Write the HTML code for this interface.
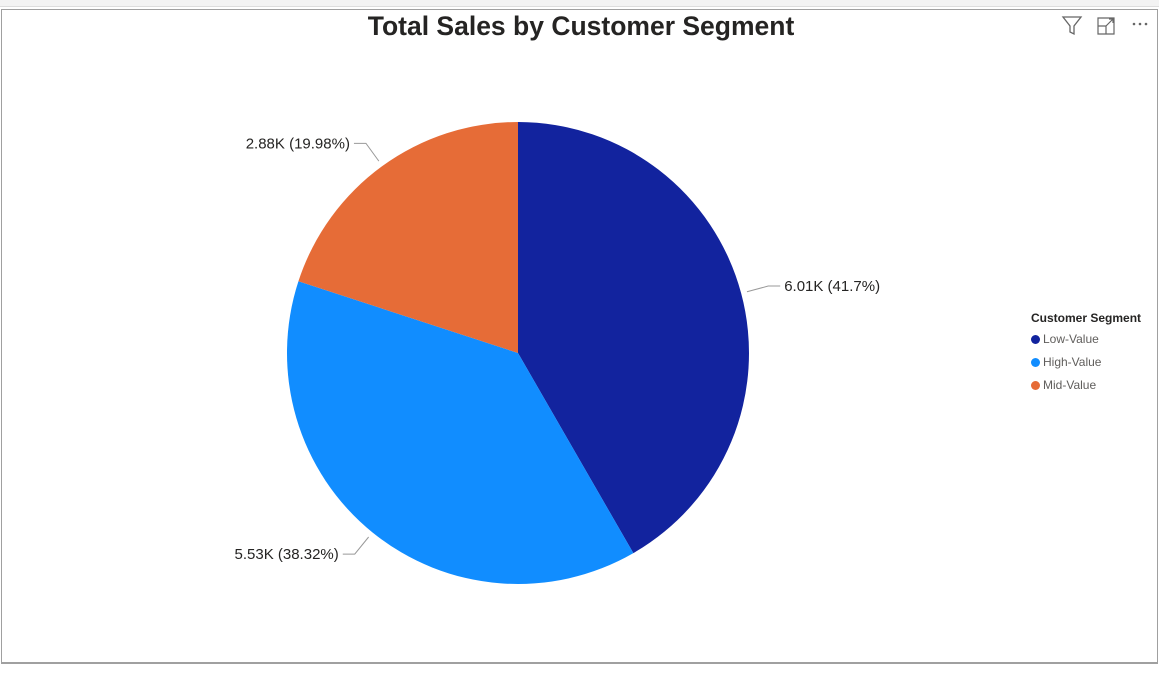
<!DOCTYPE html>
<html><head><meta charset="utf-8"><style>
body{margin:0;width:1159px;height:673px;background:#fff;overflow:hidden;font-family:"Liberation Sans",sans-serif;position:relative}
.ribbon{position:absolute;left:0;top:0;width:1159px;height:6px;background:#f3f3f3;border-bottom:1px solid #ddd}
.frame{position:absolute;left:1px;top:9px;width:1155px;height:652px;border:1px solid #a0a0a0;border-bottom:2px solid #a0a0a0}
.title{position:absolute;left:0;width:1162px;top:11px;text-align:center;font-weight:bold;font-size:26.5px;color:#252423}
.leg{position:absolute;left:1031px;font-size:12px;color:#605e5c}
.dot{display:inline-block;width:9px;height:9px;border-radius:50%;margin-right:3px;vertical-align:-1px}
</style></head><body>
<div class="ribbon"></div>
<div class="frame"></div>
<div class="title">Total Sales by Customer Segment</div>
<svg style="position:absolute;left:1060px;top:14px" width="95" height="24">
<path d="M3 3 H21 L14 12 V20 L10 18 V12 Z" fill="none" stroke="#666" stroke-width="1.3"/>
<path d="M38 4 H54 V20 H38 Z M38 12 H46 V20 M46 12 L53 5 M49 5 H53 V9" fill="none" stroke="#666" stroke-width="1.2"/>
<g fill="#666"><circle cx="74" cy="10" r="1.3"/><circle cx="80" cy="10" r="1.3"/><circle cx="86" cy="10" r="1.3"/></g>
</svg>
<svg id="pie" style="position:absolute;left:0;top:0" width="1159" height="673"></svg>
<div class="leg" style="top:311px;font-weight:bold;color:#252423">Customer Segment</div>
<div class="leg" style="top:332px"><span class="dot" style="background:#12239e"></span>Low-Value</div>
<div class="leg" style="top:355px"><span class="dot" style="background:#118dff"></span>High-Value</div>
<div class="leg" style="top:378px"><span class="dot" style="background:#e66c37"></span>Mid-Value</div>
<script>
const categories=["Low-Value","High-Value","Mid-Value"];
const values=[6010,5530,2880];
const labels=["6.01K (41.7%)","5.53K (38.32%)","2.88K (19.98%)"];
const colors=["#12239e","#118dff","#e66c37"];
const svg=document.getElementById('pie');
const NS="http://www.w3.org/2000/svg";
const cx=518,cy=353,r=231;
const total=values.reduce((a,b)=>a+b,0);
let a0=0;
function pt(a,rr){return [cx+rr*Math.sin(a),cy-rr*Math.cos(a)];}
values.forEach((v,i)=>{
  const a1=a0+v/total*2*Math.PI;
  const p0=pt(a0,r),p1=pt(a1,r);
  const large=(a1-a0)>Math.PI?1:0;
  const path=document.createElementNS(NS,'path');
  path.setAttribute('d',`M${cx},${cy} L${p0[0]},${p0[1]} A${r},${r} 0 ${large} 1 ${p1[0]},${p1[1]} Z`);
  path.setAttribute('fill',colors[i]);
  
  
  svg.appendChild(path);
  const am=(a0+a1)/2;
  const e=pt(am,r+6),m=pt(am,r+28);
  const right=Math.sin(am)>=0;
  const ex=m[0]+(right?12:-12);
  const ln=document.createElementNS(NS,'polyline');
  ln.setAttribute('points',`${e[0]},${e[1]} ${m[0]},${m[1]} ${ex},${m[1]}`);
  ln.setAttribute('fill','none');ln.setAttribute('stroke','#999');ln.setAttribute('stroke-width','1');
  
  
  svg.appendChild(ln);
  const t=document.createElementNS(NS,'text');
  t.setAttribute('x',right?ex+4:ex-4);t.setAttribute('y',m[1]+5);
  t.setAttribute('text-anchor',right?'start':'end');
  t.setAttribute('font-size','15');t.setAttribute('fill','#252423');
  t.setAttribute('font-family','Liberation Sans, sans-serif');
  t.textContent=labels[i];
  
  
  svg.appendChild(t);
  a0=a1;
});
</script>
</body></html>
